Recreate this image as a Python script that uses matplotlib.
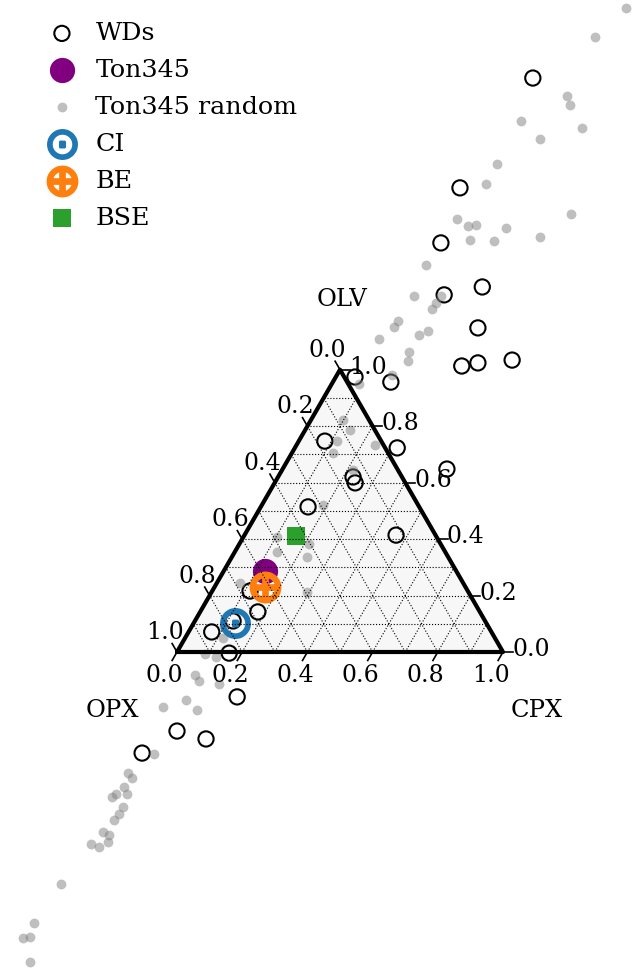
import numpy as np
import matplotlib
matplotlib.use("Agg")
import matplotlib.pyplot as plt

plt.rcParams['font.family'] = 'serif'

# ternary fractions: CPX (bottom axis) and OLV (right axis), OPX = 1 - CPX - OLV
wd_cpx = [0.075, 0.046, 0.085, 0.290, 0.187, 0.349, 0.511, 0.367, 0.411, 0.059,
          0.178, 0.080, 0.314, 0.504, 0.230, 0.247, 0.145, 0.465, 0.116, 0.177,
          0.117, 0.071, 0.162, 0.264, 0.140, 0.243, 0.072]
wd_olv = [2.033, 1.644, 1.449, 1.293, 1.265, 1.148, 1.034, 1.013, 1.024, 0.974,
          0.956, 0.747, 0.723, 0.648, 0.620, 0.599, 0.514, 0.414, 0.216, 0.142,
          0.110, 0.071, -0.004, -0.159, -0.280, -0.308, -0.358]

rand_cpx = [0.236, 0.193, 0.211, 0.237, 0.114, 0.314, 0.204, 0.118, 0.119, 0.433,
            0.092, 0.138, 0.161, 0.258, 0.169, 0.244, 0.378, 0.079, 0.096, 0.179,
            0.176, 0.174, 0.092, 0.090, 0.201, 0.181, 0.066, 0.181, 0.194, 0.169,
            0.083, 0.098, 0.138, 0.117, 0.127, 0.240, 0.218, 0.188, 0.103, 0.214,
            0.130, 0.231, 0.071, 0.293, 0.098, 0.116, 0.090, 0.129, 0.096, 0.118,
            0.186, 0.113, 0.164, 0.054, 0.110, 0.064, 0.085, 0.076, 0.099, 0.058,
            0.065, 0.109, 0.109, 0.105, 0.092, 0.115, 0.125, 0.076, 0.106, 0.055,
            0.041, 0.035, 0.054, 0.098]
rand_olv = [2.281, 2.179, 1.970, 1.938, 1.881, 1.856, 1.817, 1.729, 1.658, 1.552,
            1.534, 1.509, 1.513, 1.502, 1.459, 1.456, 1.470, 1.371, 1.261, 1.261,
            1.236, 1.215, 1.173, 1.151, 1.137, 1.123, 1.109, 1.063, 1.031, 0.981,
            0.949, 0.822, 0.786, 0.747, 0.705, 0.733, 0.645, 0.521, 0.407, 0.383,
            0.354, 0.337, 0.244, 0.213, 0.092, 0.050, -0.007, -0.018, -0.081, -0.103,
            -0.113, -0.170, -0.205, -0.195, -0.361, -0.429, -0.446, -0.478, -0.503, -0.514,
            -0.503, -0.549, -0.574, -0.595, -0.638, -0.648, -0.673, -0.680, -0.691, -0.822,
            -0.960, -1.013, -1.010, -1.098]

ton_cpx, ton_olv = [0.127], [0.287]
ci_cpx, ci_olv = [0.127], [0.103]
be_cpx, be_olv = [0.155], [0.230]
bse_cpx, bse_olv = [0.160], [0.411]

tick_values = [0.0, 0.2, 0.4, 0.6, 0.8, 1.0]
corner_names = ["OLV", "OPX", "CPX"]

H = np.sqrt(3) / 2


def project(cpx, olv):
    cpx = np.asarray(cpx, dtype=float)
    olv = np.asarray(olv, dtype=float)
    return cpx + olv / 2, olv * H


fig = plt.figure(figsize=(6.44, 9.74), dpi=100)
ax = fig.add_axes([0, 0, 1, 1])
ax.set_xlim(-177 / 326, 467 / 326)
ax.set_ylim(-322 / 326, 652 / 326)
ax.set_aspect('equal')
ax.axis('off')

# background + grid
bx, by = project([0, 1, 0, 0], [0, 0, 1, 0])
ax.fill(bx, by, color='whitesmoke', alpha=0.75, zorder=-10, lw=0)
for f in np.arange(0.1, 1.0, 0.1):
    for p, q in [((0, f), (1 - f, f)), ((f, 0), (f, 1 - f)), ((f, 0), (0, f))]:
        gx, gy = project([p[0], q[0]], [p[1], q[1]])
        ax.plot(gx, gy, color='black', lw=0.8, ls=':')
ax.plot(bx, by, color='black', lw=3, solid_capstyle='round', solid_joinstyle='round')

# ticks
off = 0.03
for v in tick_values:
    # bottom
    tx, ty = project([v, v], [0, -off])
    ax.plot(tx, ty, color='black', lw=1.2)
    lx, ly = project(v + 0.5 * off, -3.5 * off)
    ax.text(lx, ly, f"{v:.1f}", ha='center', fontsize=17)
    # left
    tx, ty = project([0, -off], [v, v + off])
    ax.plot(tx, ty, color='black', lw=1.2)
    lx, ly = project(-2 * off, v + 1.5 * off)
    ax.text(lx, ly, f"{1 - v:.1f}", ha='center', fontsize=17)
    # right
    tx, ty = project([1 - v, 1 - v + off], [v, v])
    ax.plot(tx, ty, color='black', lw=1.2)
    lx, ly = project(1 - v + 3.1 * off, v - 0.5 * off)
    ax.text(lx, ly, f"{v:.1f}", ha='center', fontsize=17)

ax.text(0.506, 1.080, corner_names[0], ha='center', va='center', fontsize=17.5)
ax.text(-0.199, -0.178, corner_names[1], ha='center', va='center', fontsize=17.5)
ax.text(1.104, -0.178, corner_names[2], ha='center', va='center', fontsize=17.5)

# data
x, y = project(wd_cpx, wd_olv)
ax.scatter(x, y, s=120, facecolors='none', edgecolors='black', linewidths=1.5, label='WDs')
x, y = project(ton_cpx, ton_olv)
ax.scatter(x, y, s=330, color='purple', linewidths=0, label='Ton345')
x, y = project(rand_cpx, rand_olv)
ax.scatter(x, y, s=50, color='gray', alpha=0.5, linewidths=0, label='Ton345 random')
x, y = project(ci_cpx, ci_olv)
ax.scatter(x, y, s=420, marker='$\\odot$', color='tab:blue', linewidths=1.8, label='CI')
x, y = project(be_cpx, be_olv)
ax.scatter(x, y, s=430, marker='$\\oplus$', color='tab:orange', linewidths=2.2, label='BE')
x, y = project(bse_cpx, bse_olv)
ax.scatter(x, y, s=170, marker='s', color='tab:green', linewidths=0, label='BSE')

ax.legend(loc='upper left', bbox_to_anchor=(0.033, 0.993), frameon=False, fontsize=18.3,
          labelspacing=0.55, handletextpad=0.32, borderaxespad=0.2)

fig.savefig('out.png', dpi=100)
